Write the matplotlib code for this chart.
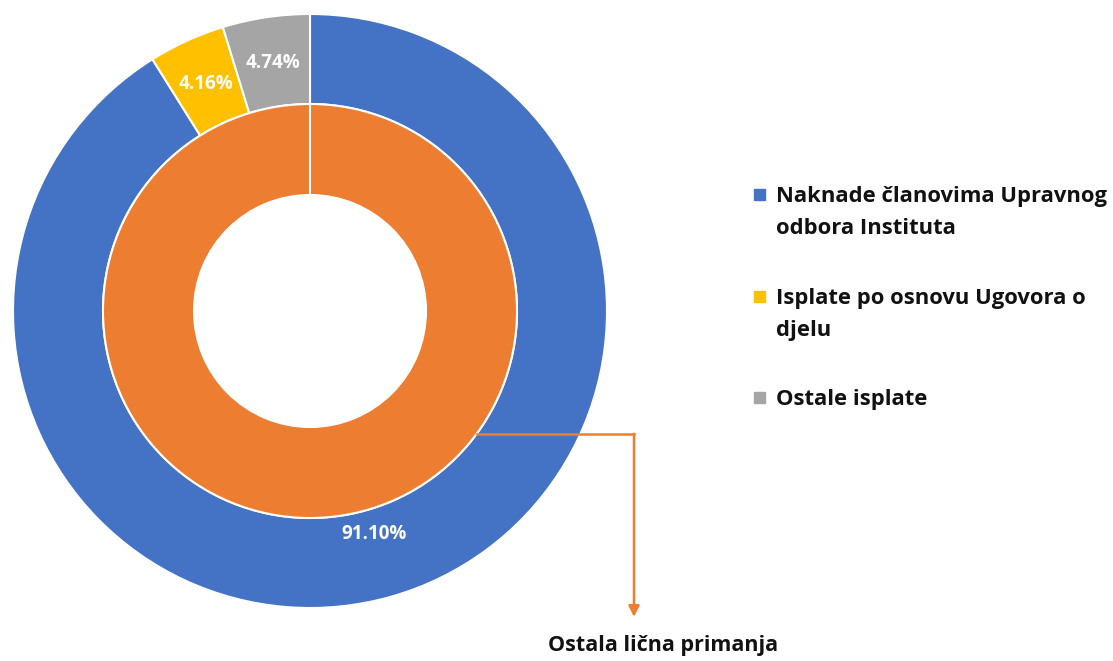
import numpy as np
from matplotlib import pyplot as plt
from matplotlib.patches import Rectangle

# outer ring
outer_labels = ["Naknade članovima Upravnog\nodbora Instituta",
                "Isplate po osnovu Ugovora o\ndjelu",
                "Ostale isplate"]
outer_values = [91.10, 4.16, 4.74]
outer_colors = ["#4472C4", "#FFC000", "#A5A5A5"]

# inner ring
inner_label = "Ostala lična primanja"
inner_values = [100.0]
inner_color = "#ED7D31"

plt.rcParams['font.family'] = ['Open Sans', 'DejaVu Sans']

W, H = 1113, 661
fig = plt.figure(figsize=(W / 100, H / 100), dpi=100)
cx, cy, R = 310, 661 - 311, 297
ax = fig.add_axes([(cx - R) / W, (cy - R) / H, 2 * R / W, 2 * R / H])

r_mid = 207 / 297
r_hole = 116 / 297

wedges, _ = ax.pie(outer_values, radius=1.0, colors=outer_colors, startangle=90,
                   counterclock=False,
                   wedgeprops=dict(width=1.0 - r_mid, edgecolor="white", linewidth=1.5))
ax.pie(inner_values, radius=r_mid, colors=[inner_color], startangle=90,
       counterclock=False,
       wedgeprops=dict(width=r_mid - r_hole, edgecolor="white", linewidth=1.5))
# thin white seam at the top of the inner ring, like the original
ax.plot([0, 0], [r_hole, r_mid], color="white", lw=1.5)

# data labels
label_r = [0.78, 0.84, 0.845]
for w, v, lr in zip(wedges, outer_values, label_r):
    ang = np.deg2rad((w.theta1 + w.theta2) / 2)
    ax.text(lr * np.cos(ang), lr * np.sin(ang), f"{v:.2f}%", color="white",
            fontsize=13.5, fontweight="bold", ha="center", va="center")

# callout for the inner ring
ang = np.deg2rad(-36.4)
sx, sy = r_mid * np.cos(ang), r_mid * np.sin(ang)
ex = 324 / 297
ax.plot([sx, ex], [sy, sy], color=inner_color, lw=1.8, clip_on=False)
ax.annotate("", xy=(ex, -1.03), xytext=(ex, sy),
            arrowprops=dict(arrowstyle="-|>", color=inner_color, lw=1.8,
                            mutation_scale=16, shrinkA=0, shrinkB=0),
            annotation_clip=False)
ax.text(353 / 297, -334 / 297, inner_label, fontsize=15.5, fontweight="bold",
        ha="center", va="center", color="#111111", clip_on=False)

ax.set_xlim(-1, 1)
ax.set_ylim(-1, 1)
ax.set_aspect("equal")
ax.axis("off")

# legend drawn by hand
leg_y = [195, 297, 398]
for lab, col, y in zip(outer_labels, outer_colors, leg_y):
    fig.patches.append(Rectangle(((754) / W, (H - y - 5) / H), 11 / W, 11 / H,
                                 transform=fig.transFigure, color=col))
    fig.text(776 / W, (H - y + 9) / H, lab, fontsize=15.8, fontweight="bold",
             ha="left", va="top", color="#111111", linespacing=1.7)

plt.savefig("out.png", dpi=100)
